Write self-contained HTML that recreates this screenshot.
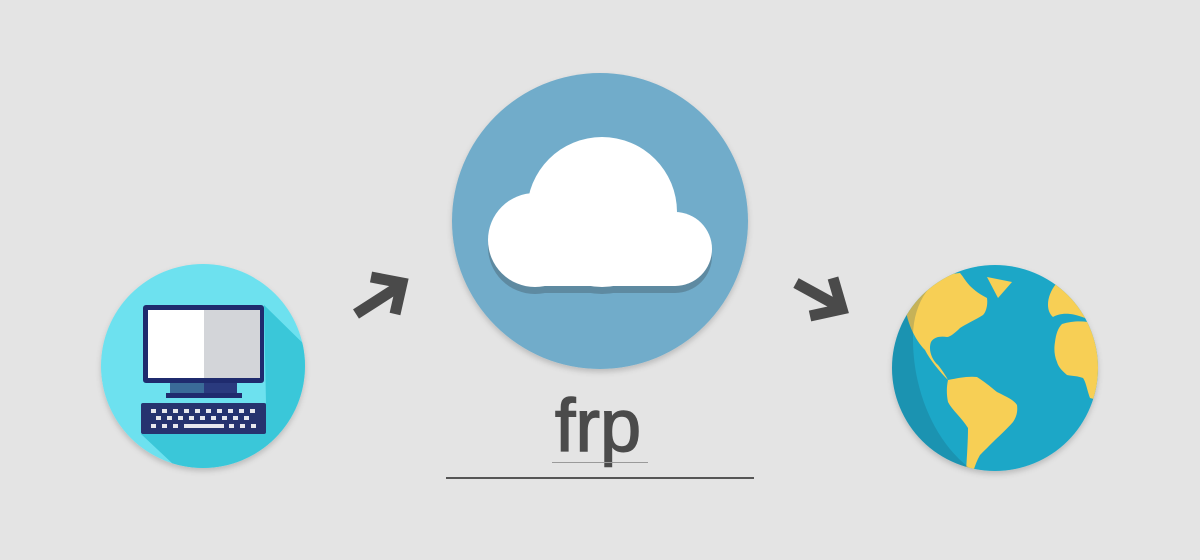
<!DOCTYPE html>
<html><head><style>
html,body{margin:0;padding:0;background:#e4e4e4;width:1200px;height:560px;overflow:hidden}
</style></head><body>
<svg width="1200" height="560" xmlns="http://www.w3.org/2000/svg">
<defs>
<clipPath id="cc"><circle cx="203" cy="366" r="102"/></clipPath>
<clipPath id="gc"><circle cx="995" cy="368" r="103"/></clipPath>
<filter id="sh" x="-20%" y="-20%" width="140%" height="140%"><feDropShadow dx="0" dy="3" stdDeviation="3" flood-opacity="0.18"/></filter>
</defs>
<!-- computer -->
<g filter="url(#sh)"><circle cx="203" cy="366" r="102" fill="#6de1ef"/></g>
<g clip-path="url(#cc)">
<polygon points="264,305 320,360 320,480 190,480 141,434 266,403" fill="#3ac7d9"/>
</g>
<rect x="143" y="305" width="121" height="78" rx="3" fill="#1f2b6e"/>
<rect x="148" y="310" width="56" height="68" fill="#fff"/>
<rect x="204" y="310" width="56" height="68" fill="#d3d5d9"/>
<rect x="170" y="383" width="34" height="10" fill="#3a6b98"/>
<rect x="204" y="383" width="33" height="10" fill="#2a3a7e"/>
<rect x="166" y="393" width="76" height="5" fill="#1f2b6e"/>
<rect x="141" y="403" width="125" height="31" rx="2" fill="#26336f"/>
<g fill="#e8e8ee">
<rect x="151" y="409" width="5" height="4"/><rect x="162" y="409" width="5" height="4"/><rect x="173" y="409" width="5" height="4"/><rect x="184" y="409" width="5" height="4"/><rect x="195" y="409" width="5" height="4"/><rect x="206" y="409" width="5" height="4"/><rect x="217" y="409" width="5" height="4"/><rect x="228" y="409" width="5" height="4"/><rect x="239" y="409" width="5" height="4"/><rect x="250" y="409" width="5" height="4"/>
<rect x="156" y="416" width="5" height="4"/><rect x="167" y="416" width="5" height="4"/><rect x="178" y="416" width="5" height="4"/><rect x="189" y="416" width="5" height="4"/><rect x="200" y="416" width="5" height="4"/><rect x="211" y="416" width="5" height="4"/><rect x="222" y="416" width="5" height="4"/><rect x="233" y="416" width="5" height="4"/><rect x="244" y="416" width="5" height="4"/>
<rect x="151" y="424" width="5" height="4"/><rect x="162" y="424" width="5" height="4"/><rect x="173" y="424" width="5" height="4"/><rect x="184" y="424" width="40" height="4"/><rect x="229" y="424" width="5" height="4"/><rect x="240" y="424" width="5" height="4"/><rect x="251" y="424" width="5" height="4"/>
</g>
<!-- arrows -->
<g stroke="#4a4a4a" stroke-width="11" fill="none" stroke-linejoin="miter">
<line x1="356" y1="314" x2="398" y2="287"/>
<polyline points="371,277 402,283 395,314"/>
<line x1="796" y1="283" x2="838" y2="306"/>
<polyline points="833,278 842,309 810,316"/>
</g>
<!-- cloud -->
<g filter="url(#sh)"><circle cx="600" cy="221" r="148" fill="#71acca"/></g>
<g fill="#5e8aa1" transform="translate(0,7)">
<circle cx="535" cy="240" r="47"/><circle cx="675" cy="249" r="37"/><circle cx="602" cy="212" r="75"/><rect x="535" y="230" width="140" height="56"/>
</g>
<g fill="#fff">
<circle cx="535" cy="240" r="47"/><circle cx="675" cy="249" r="37"/><circle cx="602" cy="212" r="75"/><rect x="535" y="230" width="140" height="56"/>
</g>
<!-- globe -->
<g filter="url(#sh)"><circle cx="995" cy="368" r="103" fill="#1fa7c7"/></g>
<g clip-path="url(#gc)">
<g fill="#f7cf55">
<path d="M960,273 C966,280 968,288 987,298 C988,305 986,312 983,315 C975,320 966,324 960,328 C955,333 950,337 947,337 C940,336 934,337 931,342 C928,350 932,360 938,365 C942,370 946,376 948,380 C958,378 968,376 977,377 C985,382 992,388 997,392 C1007,397 1014,400 1017,405 C1018,412 1016,418 1013,422 C1006,430 998,437 993,442 C987,448 983,452 980,455 C977,460 975,466 973,472 L966,472 C967,455 968,440 968,428 C962,418 952,410 948,402 C946,392 947,385 948,380 C940,372 930,360 925,350 C915,340 905,320 905,300 C915,285 935,275 960,273 Z"/>
<path d="M987,277 L1012,282 L998,298 Z"/>
<path d="M1056,284 C1047,295 1045,310 1053,317 C1060,313 1070,312 1085,318 L1105,318 L1105,285 C1090,280 1070,278 1056,284 Z"/>
<path d="M1062,324 C1072,321 1080,321 1088,322 L1105,322 L1105,402 L1090,398 C1087,390 1086,382 1083,378 C1078,376 1072,376 1067,375 C1061,370 1058,366 1057,362 C1054,355 1054,348 1055,342 C1056,334 1058,328 1062,324 Z"/>
</g>
<path d="M960,264 A104,104 0 0 0 975,472 C935,445 912,390 913,335 C914,300 932,278 960,264 Z" fill="#1a4f66" opacity="0.22"/>
</g>
<!-- text -->
<text x="598" y="451" text-anchor="middle" font-family="Liberation Sans, sans-serif" font-size="74" fill="#4b4b4b" stroke="#4b4b4b" stroke-width="1.4">frp</text>
<rect x="552" y="462" width="96" height="1" fill="#9a9a9a"/>
<rect x="446" y="477" width="308" height="2" fill="#555"/>
</svg>
</body></html>
